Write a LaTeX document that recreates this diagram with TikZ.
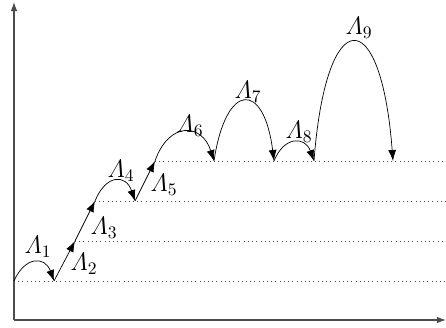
\documentclass[tikz,border=0pt]{standalone}
\usepackage{amsmath}
\usepackage{tikz}
\usetikzlibrary{arrows.meta}
\tikzset{
  jumparrow/.style={-{Latex[length=2.2mm,width=1.6mm]}, thin, black},
  levelline/.style={dotted, thin, black!70},
  axisarrow/.style={-{Latex[length=1.8mm,width=1.3mm]}, semithick, black!70},
  lblnode/.style={inner sep=1pt, font=\fontsize{14}{17}\selectfont},
}
\begin{document}
\begin{tikzpicture}[x=0.2mm,y=-0.2mm]
  \useasboundingbox (0,0) rectangle (446,328);
  % axes
  \coordinate (o) at (14,320);
  \coordinate (ytop) at (14,2);
  \coordinate (xend) at (446,320);
  \draw[axisarrow] (o) -- (ytop);
  \draw[axisarrow] (o) -- (xend);
  % jump points
  \coordinate (p0) at (14,281);
  \coordinate (p1) at (54,281);
  \coordinate (p2) at (75,241);
  \coordinate (p3) at (95,201);
  \coordinate (p4) at (135,201);
  \coordinate (p5) at (155,161);
  \coordinate (p6) at (214,161);
  \coordinate (p7) at (274,161);
  \coordinate (p8) at (314,161);
  \coordinate (p9) at (393,161);
  % level lines
  \coordinate (e0) at (446,281);
  \coordinate (e1) at (446,241);
  \coordinate (e2) at (446,201);
  \coordinate (e3) at (446,161);
  \draw[levelline] (p0) -- (e0);
  \draw[levelline] (p2) -- (e1);
  \draw[levelline] (p3) -- (e2);
  \draw[levelline] (p5) -- (e3);
  % jumps
  \draw[jumparrow] (p0) .. controls +(11,-25) and +(-9,-25) .. (p1);
  \draw[jumparrow] (p1) -- (p2);
  \draw[jumparrow] (p2) -- (p3);
  \draw[jumparrow] (p3) .. controls +(11,-27) and +(-9,-27) .. (p4);
  \draw[jumparrow] (p4) -- (p5);
  \draw[jumparrow] (p5) .. controls +(14,-40) and +(-12,-38) .. (p6);
  \draw[jumparrow] (p6) .. controls +(12,-80) and +(-10,-80) .. (p7);
  \draw[jumparrow] (p7) .. controls +(10,-25) and +(-9,-25) .. (p8);
  \draw[jumparrow] (p8) .. controls +(12,-159) and +(-12,-159) .. (p9);
  % labels
  \node[lblnode] (l1) at (38,247) {$\varLambda_1$};
  \node[lblnode] (l2) at (84,264) {$\varLambda_2$};
  \node[lblnode] (l3) at (104,228) {$\varLambda_3$};
  \node[lblnode] (l4) at (121,171) {$\varLambda_4$};
  \node[lblnode] (l5) at (164,185) {$\varLambda_5$};
  \node[lblnode] (l6) at (190,126) {$\varLambda_6$};
  \node[lblnode] (l7) at (248,92) {$\varLambda_7$};
  \node[lblnode] (l8) at (299,132) {$\varLambda_8$};
  \node[lblnode] (l9) at (359,28) {$\varLambda_9$};
\end{tikzpicture}
\end{document}
